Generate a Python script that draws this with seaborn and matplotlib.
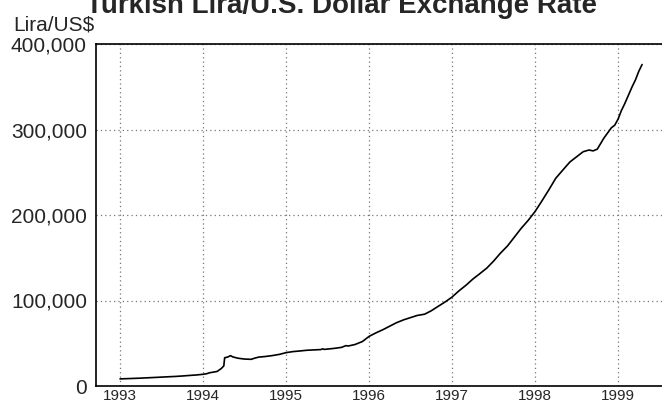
import matplotlib
matplotlib.use("Agg")
import matplotlib.pyplot as plt
import matplotlib.ticker as mticker
import seaborn as sns
import pandas as pd

# Turkish lira per US dollar (decimal years)
years = [1993.00, 1993.08, 1993.17, 1993.25, 1993.33, 1993.42, 1993.50, 1993.58,
         1993.67, 1993.75, 1993.83, 1993.92,
         1994.00, 1994.04, 1994.08, 1994.17, 1994.22, 1994.25, 1994.26, 1994.30,
         1994.33, 1994.36, 1994.42, 1994.50, 1994.58, 1994.62, 1994.67, 1994.75,
         1994.83, 1994.92,
         1995.00, 1995.08, 1995.17, 1995.25, 1995.33, 1995.42, 1995.44, 1995.46,
         1995.50, 1995.58, 1995.67, 1995.72, 1995.75, 1995.83, 1995.92,
         1996.00, 1996.08, 1996.17, 1996.25, 1996.33, 1996.42, 1996.50, 1996.58,
         1996.67, 1996.75, 1996.83, 1996.92,
         1997.00, 1997.08, 1997.17, 1997.25, 1997.33, 1997.42, 1997.50, 1997.58,
         1997.67, 1997.75, 1997.83, 1997.92,
         1998.00, 1998.08, 1998.17, 1998.25, 1998.33, 1998.42, 1998.50, 1998.58,
         1998.65, 1998.70, 1998.75, 1998.83, 1998.92, 1998.96,
         1999.00, 1999.04, 1999.08, 1999.17, 1999.21, 1999.25, 1999.29]
rates = [8300, 8600, 8900, 9200, 9600, 10000, 10400, 10800,
         11200, 11700, 12300, 12900,
         13700, 14300, 15500, 17000, 20500, 23500, 33000, 34000,
         35500, 34000, 32500, 31500, 31200, 32500, 33800, 34500,
         35500, 37000,
         39000, 40200, 41000, 41800, 42200, 42600, 43500, 42800,
         43200, 44000, 45200, 47200, 46800, 48500, 52000,
         58000, 62000, 66000, 70000, 74000, 77500, 80000, 82500,
         84000, 88000, 93000, 98500,
         104000, 111000, 118000, 125000, 131000, 138000, 146000, 155000,
         164000, 174000, 184000, 194000,
         204000, 216000, 230000, 243000, 252000, 262000, 268000, 274000,
         276000, 275000, 277000, 290000, 302000, 305000,
         312000, 322000, 330000, 350000, 358000, 368000, 376000]

year_ticks = [1993, 1994, 1995, 1996, 1997, 1998, 1999]
rate_ticks = [0, 100000, 200000, 300000, 400000]

data = pd.DataFrame({"year": years, "rate": rates})

sns.set_style("white")
plt.rcParams['font.family'] = ['Liberation Sans', 'DejaVu Sans']

fig = plt.figure(figsize=(6.62, 4.04), dpi=100)
ax = fig.add_axes([96 / 662, 1 - 386 / 404, 1 - 96 / 662, (386 - 44) / 404])

sns.lineplot(data=data, x="year", y="rate", color="black", linewidth=1.2, ax=ax)

ax.set_xlim(1992.71, 1999.53)
ax.set_ylim(0, 400000)
ax.set_xticks(year_ticks)
ax.set_yticks(rate_ticks)
ax.yaxis.set_major_formatter(mticker.FuncFormatter(lambda v, p: f"{int(v):,}"))
ax.tick_params(axis="x", length=0, labelsize=11, pad=2)
ax.tick_params(axis="y", length=0, labelsize=15, pad=6.5)
ax.grid(True, linestyle=(0, (1, 2.5)), color="#777777", linewidth=0.9)
ax.set_xlabel("")
ax.set_ylabel("")

for side in ["left", "bottom", "top"]:
    ax.spines[side].set_color("black")
    ax.spines[side].set_linewidth(1.2)
ax.spines["right"].set_visible(False)

fig.text(13 / 662, 1 - 30 / 404, "Lira/US$", fontsize=15, ha="left", va="baseline")
fig.text(342 / 662, 1 - 13 / 404, "Turkish Lira/U.S. Dollar Exchange Rate",
         fontsize=20, fontweight="bold", ha="center", va="baseline")

plt.savefig("out.png", dpi=100)
